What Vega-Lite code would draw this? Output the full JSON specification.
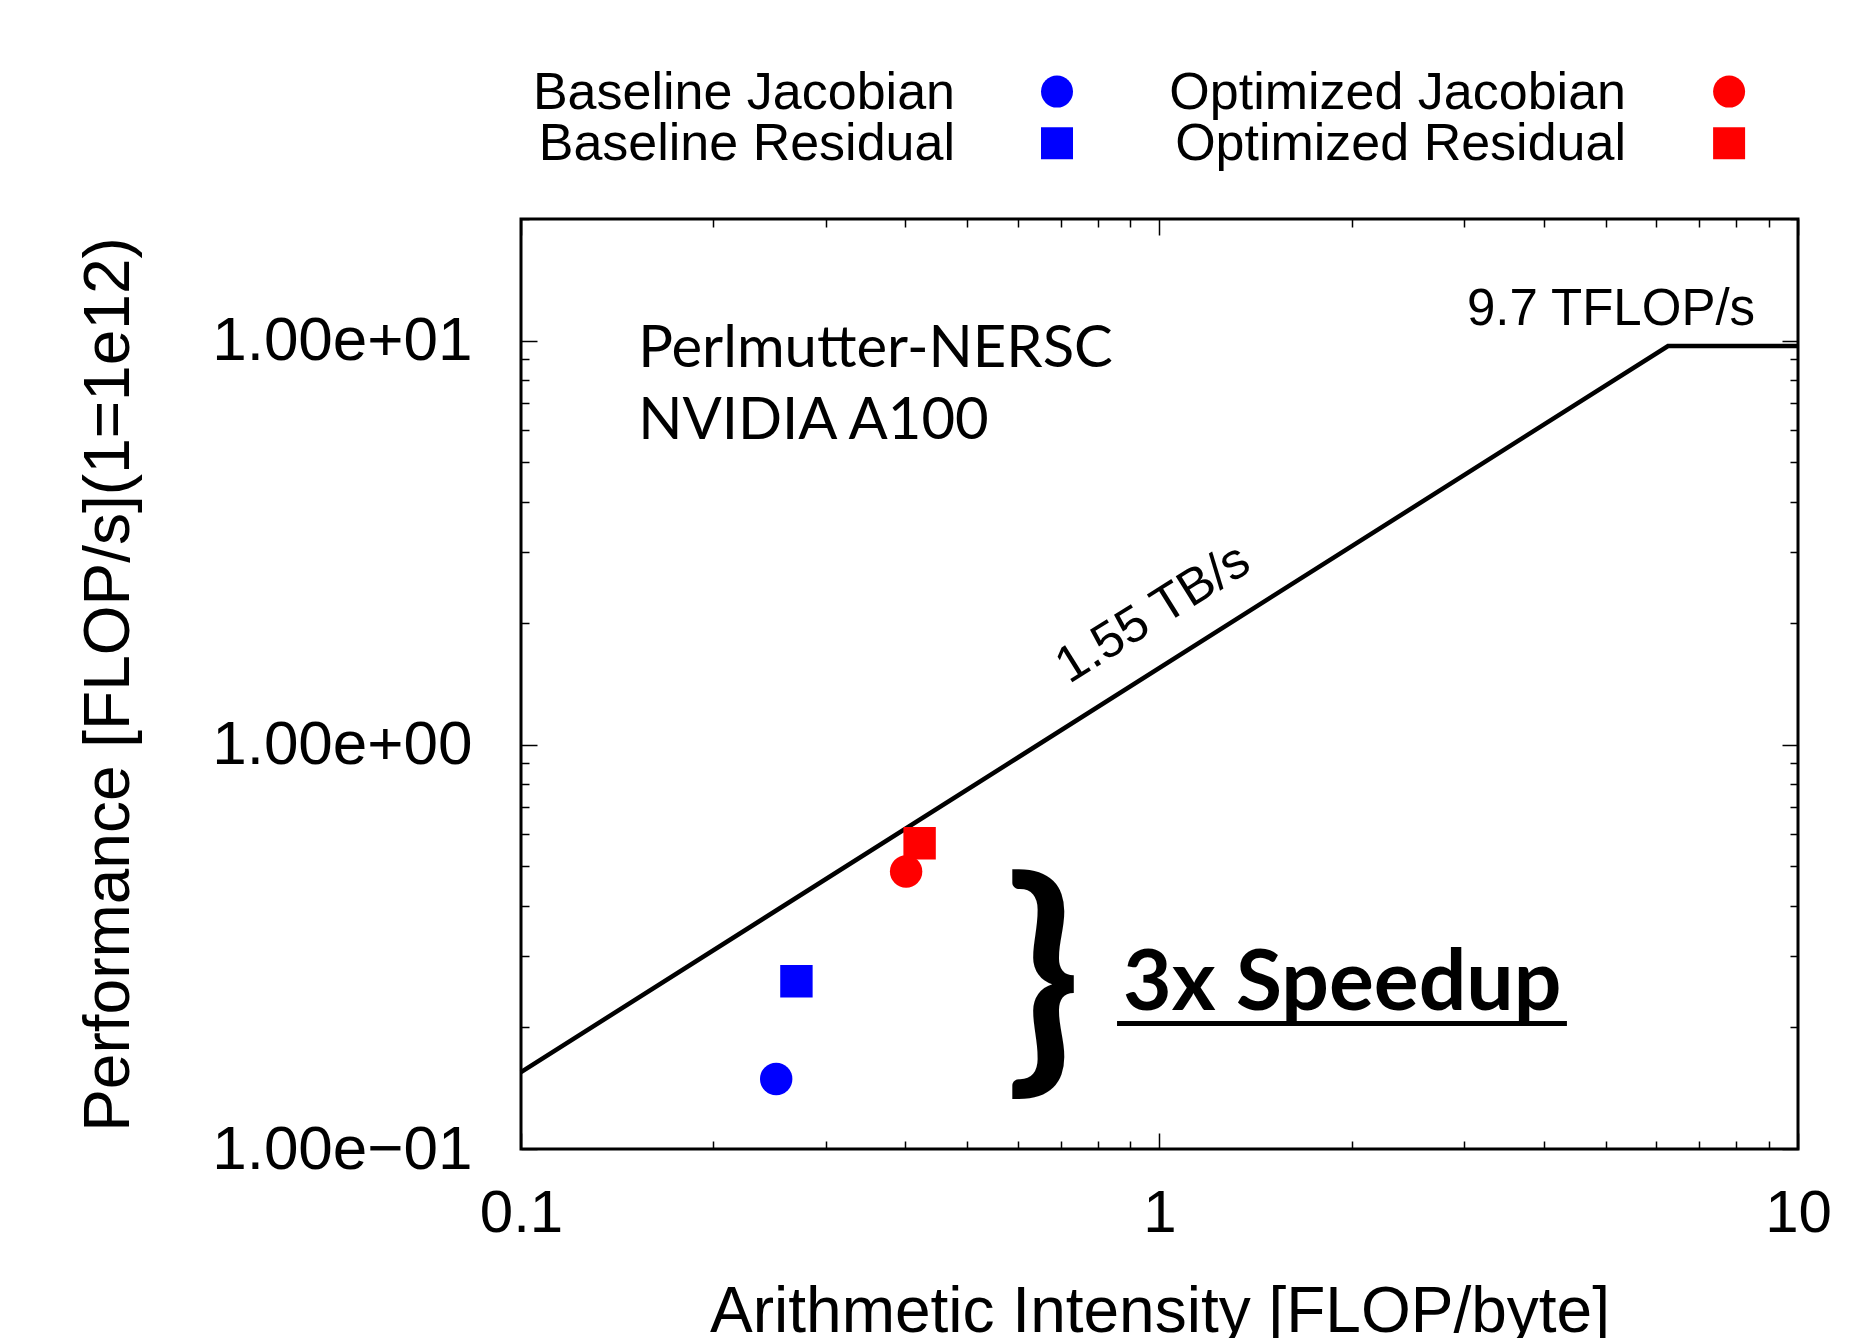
{
  "$schema": "https://vega.github.io/schema/vega-lite/v6.json",
  "width": 1277,
  "height": 930,
  "autosize": {"type": "none"},
  "padding": {"left": 521, "top": 219, "right": 57, "bottom": 189},
  "background": "white",
  "config": {
    "view": {"stroke": "black", "strokeWidth": 3},
    "axis": {
      "domain": false, "grid": false, "tickColor": "black", "tickWidth": 1.5,
      "labelFont": "Liberation Sans", "titleFont": "Liberation Sans",
      "labelColor": "black", "titleColor": "black", "titleFontWeight": "normal",
      "labelOverlap": false, "labelFlush": false, "labelLimit": 0, "titleLimit": 0
    }
  },
  "datasets": {
    "roofline": [
      {"ai": 0.1, "perf": 0.155},
      {"ai": 6.258, "perf": 9.7},
      {"ai": 10, "perf": 9.7}
    ],
    "kernels": [
      {"version": "Baseline", "kernel": "Jacobian", "ai": 0.251, "perf": 0.149},
      {"version": "Baseline", "kernel": "Residual", "ai": 0.270, "perf": 0.260},
      {"version": "Optimized", "kernel": "Jacobian", "ai": 0.401, "perf": 0.486},
      {"version": "Optimized", "kernel": "Residual", "ai": 0.421, "perf": 0.571}
    ]
  },
  "layer": [
    {
      "data": {"name": "roofline"},
      "mark": {"type": "line", "color": "black", "strokeWidth": 4.5},
      "encoding": {
        "x": {
          "field": "ai", "type": "quantitative",
          "scale": {"type": "log", "domain": [0.1, 10], "nice": false},
          "axis": {
            "orient": "bottom", "title": "Arithmetic Intensity [FLOP/byte]",
            "values": [0.1,0.2,0.3,0.4,0.5,0.6,0.7,0.8,0.9,1,2,3,4,5,6,7,8,9,10],
            "labelExpr": "datum.value == 0.1 ? '0.1' : datum.value == 1 ? '1' : datum.value == 10 ? '10' : ''",
            "tickSize": {"condition": {"test": "datum.value == 0.1 || datum.value == 1 || datum.value == 10", "value": -16}, "value": -8},
            "labelFontSize": 60, "labelPadding": 51, "labelAlign": "center",
            "titleFontSize": 64, "titlePadding": 29
          }
        },
        "y": {
          "field": "perf", "type": "quantitative",
          "scale": {"type": "log", "domain": [0.1, 20], "nice": false},
          "axis": {
            "orient": "left", "title": "Performance [FLOP/s](1=1e12)",
            "values": [0.1,0.2,0.3,0.4,0.5,0.6,0.7,0.8,0.9,1,2,3,4,5,6,7,8,9,10,20],
            "labelExpr": "datum.value == 10 ? '1.00e+01' : datum.value == 1 ? '1.00e+00' : datum.value == 0.1 ? '1.00e\u221201' : ''",
            "tickSize": {"condition": {"test": "datum.value == 0.1 || datum.value == 1 || datum.value == 10", "value": -16}, "value": -8},
            "labelFontSize": 62, "labelPadding": 65, "labelBaseline": "middle",
            "titleFontSize": 64, "titlePadding": 180
          }
        }
      }
    },
    {
      "data": {"name": "kernels"},
      "mark": {"type": "point", "filled": true, "opacity": 1, "size": 1050},
      "encoding": {
        "x": {
          "field": "ai", "type": "quantitative",
          "axis": {
            "orient": "top", "title": null, "labels": false,
            "values": [0.1,0.2,0.3,0.4,0.5,0.6,0.7,0.8,0.9,1,2,3,4,5,6,7,8,9,10],
            "tickSize": {"condition": {"test": "datum.value == 0.1 || datum.value == 1 || datum.value == 10", "value": -16}, "value": -8}
          }
        },
        "y": {
          "field": "perf", "type": "quantitative",
          "axis": {
            "orient": "right", "title": null, "labels": false,
            "values": [0.1,0.2,0.3,0.4,0.5,0.6,0.7,0.8,0.9,1,2,3,4,5,6,7,8,9,10,20],
            "tickSize": {"condition": {"test": "datum.value == 0.1 || datum.value == 1 || datum.value == 10", "value": -16}, "value": -8}
          }
        },
        "color": {"field": "version", "type": "nominal", "scale": {"domain": ["Baseline", "Optimized"], "range": ["#0000FF", "#FF0000"]}, "legend": null},
        "shape": {"field": "kernel", "type": "nominal", "scale": {"domain": ["Jacobian", "Residual"], "range": ["circle", "square"]}, "legend": null}
      }
    },
    {
      "data": {"values": [{"label": "Perlmutter-NERSC"}]},
      "mark": {"type": "text", "font": "Lato", "fontSize": 58, "align": "left", "baseline": "alphabetic", "color": "black"},
      "encoding": {
        "x": {"datum": 0.1526, "type": "quantitative", "axis": null},
        "y": {"datum": 8.62, "type": "quantitative", "axis": null},
        "text": {"field": "label"}
      }
    },
    {
      "data": {"values": [{"label": "NVIDIA A100"}]},
      "mark": {"type": "text", "font": "Lato", "fontSize": 58, "align": "left", "baseline": "alphabetic", "color": "black"},
      "encoding": {
        "x": {"datum": 0.1526, "type": "quantitative", "axis": null},
        "y": {"datum": 5.72, "type": "quantitative", "axis": null},
        "text": {"field": "label"}
      }
    },
    {
      "data": {"values": [{"label": "9.7 TFLOP/s"}]},
      "mark": {"type": "text", "font": "Liberation Sans", "fontSize": 51, "align": "right", "baseline": "alphabetic", "color": "black"},
      "encoding": {
        "x": {"datum": 8.566, "type": "quantitative", "axis": null},
        "y": {"datum": 10.95, "type": "quantitative", "axis": null},
        "text": {"field": "label"}
      }
    },
    {
      "data": {"values": [{"label": "1.55 TB/s"}]},
      "mark": {"type": "text", "font": "Liberation Sans", "fontSize": 51, "align": "center", "baseline": "alphabetic", "angle": -32, "color": "black"},
      "encoding": {
        "x": {"datum": 1.006, "type": "quantitative", "axis": null},
        "y": {"datum": 1.96, "type": "quantitative", "axis": null},
        "text": {"field": "label"}
      }
    },
    {
      "data": {"values": [{"label": "}"}]},
      "mark": {"type": "text", "font": "Lato", "fontWeight": "bold", "fontSize": 247, "align": "center", "baseline": "alphabetic", "color": "black"},
      "encoding": {
        "x": {"datum": 0.657, "type": "quantitative", "axis": null},
        "y": {"datum": 0.165, "type": "quantitative", "axis": null},
        "text": {"field": "label"}
      }
    },
    {
      "data": {"values": [{"label": "3x Speedup"}]},
      "mark": {"type": "text", "font": "Lato", "fontWeight": "bold", "fontSize": 84, "align": "left", "baseline": "alphabetic", "color": "black"},
      "encoding": {
        "x": {"datum": 0.8766, "type": "quantitative", "axis": null},
        "y": {"datum": 0.2208, "type": "quantitative", "axis": null},
        "text": {"field": "label"}
      }
    },
    {
      "data": {"values": [{"label": "underline"}]},
      "mark": {"type": "rule", "color": "black", "strokeWidth": 5},
      "encoding": {
        "x": {"datum": 0.858, "type": "quantitative", "axis": null},
        "x2": {"datum": 4.346},
        "y": {"datum": 0.2045, "type": "quantitative", "axis": null}
      }
    },
    {
      "data": {"values": [{"label": "Baseline Jacobian"}]},
      "mark": {"type": "text", "font": "Liberation Sans", "fontSize": 52, "align": "right", "baseline": "alphabetic", "color": "black"},
      "encoding": {
        "x": {"datum": 0.4783, "type": "quantitative", "axis": null},
        "y": {"datum": 37.5, "type": "quantitative", "axis": null},
        "text": {"field": "label"}
      }
    },
    {
      "data": {"values": [{"label": "Baseline Residual"}]},
      "mark": {"type": "text", "font": "Liberation Sans", "fontSize": 52, "align": "right", "baseline": "alphabetic", "color": "black"},
      "encoding": {
        "x": {"datum": 0.4783, "type": "quantitative", "axis": null},
        "y": {"datum": 28.05, "type": "quantitative", "axis": null},
        "text": {"field": "label"}
      }
    },
    {
      "data": {"values": [{"label": "Optimized Jacobian"}]},
      "mark": {"type": "text", "font": "Liberation Sans", "fontSize": 52, "align": "right", "baseline": "alphabetic", "color": "black"},
      "encoding": {
        "x": {"datum": 5.378, "type": "quantitative", "axis": null},
        "y": {"datum": 37.5, "type": "quantitative", "axis": null},
        "text": {"field": "label"}
      }
    },
    {
      "data": {"values": [{"label": "Optimized Residual"}]},
      "mark": {"type": "text", "font": "Liberation Sans", "fontSize": 52, "align": "right", "baseline": "alphabetic", "color": "black"},
      "encoding": {
        "x": {"datum": 5.378, "type": "quantitative", "axis": null},
        "y": {"datum": 28.05, "type": "quantitative", "axis": null},
        "text": {"field": "label"}
      }
    },
    {
      "data": {"values": [{"version": "Baseline", "kernel": "Jacobian"}]},
      "mark": {"type": "point", "filled": true, "opacity": 1, "size": 1024},
      "encoding": {
        "x": {"datum": 0.691, "type": "quantitative", "axis": null},
        "y": {"datum": 41.33, "type": "quantitative", "axis": null},
        "color": {"field": "version", "type": "nominal", "legend": null},
        "shape": {"field": "kernel", "type": "nominal", "legend": null}
      }
    },
    {
      "data": {"values": [{"version": "Baseline", "kernel": "Residual"}]},
      "mark": {"type": "point", "filled": true, "opacity": 1, "size": 1024},
      "encoding": {
        "x": {"datum": 0.691, "type": "quantitative", "axis": null},
        "y": {"datum": 30.8, "type": "quantitative", "axis": null},
        "color": {"field": "version", "type": "nominal", "legend": null},
        "shape": {"field": "kernel", "type": "nominal", "legend": null}
      }
    },
    {
      "data": {"values": [{"version": "Optimized", "kernel": "Jacobian"}]},
      "mark": {"type": "point", "filled": true, "opacity": 1, "size": 1024},
      "encoding": {
        "x": {"datum": 7.8, "type": "quantitative", "axis": null},
        "y": {"datum": 41.33, "type": "quantitative", "axis": null},
        "color": {"field": "version", "type": "nominal", "legend": null},
        "shape": {"field": "kernel", "type": "nominal", "legend": null}
      }
    },
    {
      "data": {"values": [{"version": "Optimized", "kernel": "Residual"}]},
      "mark": {"type": "point", "filled": true, "opacity": 1, "size": 1024},
      "encoding": {
        "x": {"datum": 7.8, "type": "quantitative", "axis": null},
        "y": {"datum": 30.8, "type": "quantitative", "axis": null},
        "color": {"field": "version", "type": "nominal", "legend": null},
        "shape": {"field": "kernel", "type": "nominal", "legend": null}
      }
    }
  ],
  "resolve": {"axis": {"x": "independent", "y": "independent"}}
}
